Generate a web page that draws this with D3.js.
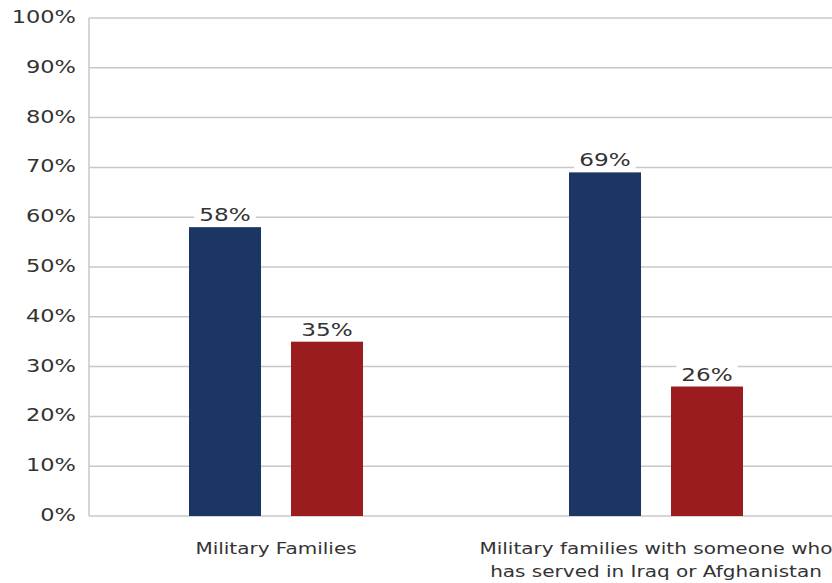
<!DOCTYPE html>
<html><head><meta charset="utf-8">
<script src="https://cdn.jsdelivr.net/npm/d3@7"></script>
<style>body{margin:0;background:#fff}svg{display:block}text{font-family:"DejaVu Sans",Verdana,sans-serif;fill:#333}</style>
</head><body>
<script>
const categories = ["Military Families", "Military families with someone who|has served in Iraq or Afghanistan"];
const seriesNames = ["Series A", "Series B"];
const seriesA = [58, 69];
const seriesB = [35, 26];
const yTicks = [0,10,20,30,40,50,60,70,80,90,100];
const colors = ["#1c3664", "#9b1c1f"];

const W = 832, H = 583;
const SX = 1.25;
const m = {left: 89, top: 18, right: -14, bottom: 67};
const svg = d3.select("body").append("svg").attr("width", W).attr("height", H);
const x0 = d3.scaleBand().domain(categories).range([m.left - 3, W - m.right]).padding(0);
const y = d3.scaleLinear().domain([0, 100]).range([H - m.bottom, m.top]);
const x1 = d3.scaleBand().domain(seriesNames).range([0, x0.bandwidth()]).paddingInner(0.294).paddingOuter(1.01);

function stretchedText(parent, x, yy, anchor, size, str) {
  const g = parent.append("g").attr("transform", `translate(${x},${yy}) scale(${SX},1)`);
  const t = g.append("text").attr("x", 0).attr("y", 0).attr("text-anchor", anchor)
    .style("font-size", size + "px").text(str);
  return {g, t};
}

// gridlines
svg.append("g").selectAll("line").data(yTicks).join("line")
  .attr("x1", m.left).attr("x2", W).attr("y1", d => y(d)).attr("y2", d => y(d))
  .attr("stroke", "#c8c8c8").attr("stroke-width", 1.5);
svg.append("line").attr("x1", m.left).attr("x2", m.left).attr("y1", y(100)).attr("y2", y(0))
  .attr("stroke", "#c8c8c8").attr("stroke-width", 1.5);

// y axis labels
const ga = svg.append("g");
yTicks.forEach(v => stretchedText(ga, 76, y(v) + 5, "end", 18, v + "%"));

// bars
const data = categories.map((c, i) => ({c, vals: [seriesA[i], seriesB[i]]}));
const groups = svg.append("g").selectAll("g").data(data).join("g")
  .attr("transform", d => `translate(${x0(d.c)},0)`);
const items = groups.selectAll("g").data(d => d.vals.map((v, j) => ({v, s: seriesNames[j], j}))).join("g");
items.append("rect")
  .attr("x", d => x1(d.s)).attr("width", x1.bandwidth())
  .attr("y", d => y(d.v)).attr("height", d => y(0) - y(d.v))
  .attr("fill", d => colors[d.j]);
items.each(function(d){
  const g = d3.select(this);
  const {g: tg, t} = stretchedText(g, x1(d.s) + x1.bandwidth()/2, y(d.v) - 6, "middle", 18.5, d.v + "%");
  const bb = t.node().getBBox();
  tg.insert("rect", "text").attr("x", bb.x - 4).attr("y", bb.y).attr("width", bb.width + 8).attr("height", bb.height)
    .attr("fill", "#fff");
});

// category labels
const gc = svg.append("g");
categories.forEach(c => {
  c.split("|").forEach((line, i) => {
    stretchedText(gc, x0(c) + x0.bandwidth()/2, 554 + i * 23, "middle", 16, line);
  });
});
</script>
</body></html>
